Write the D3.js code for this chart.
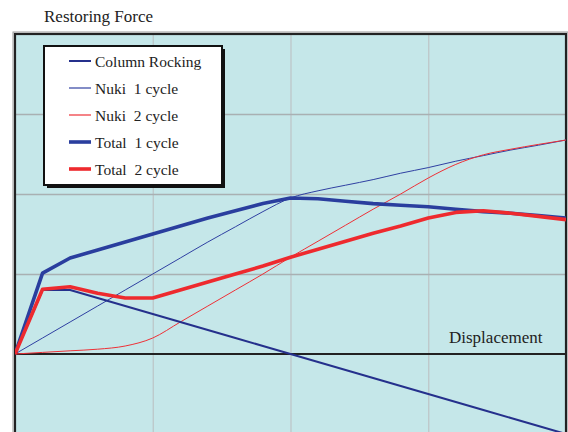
<!DOCTYPE html>
<html>
<head>
<meta charset="utf-8">
<script src="https://cdn.jsdelivr.net/npm/d3@7/dist/d3.min.js"></script>
<style>
  html, body { margin: 0; padding: 0; background: #fff; }
  svg { display: block; }
  text { font-family: "Liberation Serif", "Times New Roman", serif; fill: #222; }
</style>
</head>
<body>
<svg id="chart" width="568" height="432"></svg>
<script>
// Displacement steps (x) and restoring force of each component
const displacement = [0, 0.2, 0.4, 0.6, 0.8, 1.0, 1.2, 1.4, 1.6, 1.8, 2.0,
                      2.2, 2.4, 2.6, 2.8, 3.0, 3.2, 3.4, 3.6, 3.8, 4.0];
const columnRocking = [0, 0.80, 0.80, 0.70, 0.60, 0.50, 0.40, 0.30, 0.20, 0.10, 0.00,
                       -0.10, -0.20, -0.30, -0.40, -0.50, -0.60, -0.70, -0.80, -0.90, -1.00];
const nuki1 = [0, 0.20, 0.40, 0.60, 0.80, 1.00, 1.20, 1.40, 1.59, 1.78, 1.95,
               2.04, 2.11, 2.18, 2.26, 2.33, 2.41, 2.48, 2.55, 2.61, 2.675];
const nuki2 = [0, 0.02, 0.04, 0.06, 0.10, 0.20, 0.40, 0.60, 0.80, 1.00, 1.21,
               1.41, 1.61, 1.81, 2.00, 2.20, 2.37, 2.49, 2.56, 2.62, 2.675];
const total1 = [0, 1.01, 1.20, 1.30, 1.40, 1.50, 1.60, 1.70, 1.79, 1.88, 1.95,
                1.94, 1.91, 1.88, 1.86, 1.84, 1.81, 1.78, 1.76, 1.73, 1.70];
const total2 = [0, 0.81, 0.84, 0.76, 0.70, 0.70, 0.80, 0.90, 1.00, 1.10, 1.21,
                1.31, 1.41, 1.51, 1.60, 1.70, 1.77, 1.79, 1.76, 1.72, 1.68];

const seriesNames = ["Column Rocking", "Nuki\u00a0 1 cycle", "Nuki\u00a0 2 cycle", "Total\u00a0 1 cycle", "Total\u00a0 2 cycle"];
const seriesValues = [columnRocking, nuki1, nuki2, total1, total2];
const seriesColors = ["#25308c", "#2f40a2", "#ee3036", "#2a3e9e", "#ee2a2e"];
const seriesWidths = [2, 1, 1, 3.6, 3.6];
const seriesSmooth = [false, true, true, false, false];

const xTicks = [0, 1, 2, 3, 4];
const yTicks = [-1, 0, 1, 2, 3, 4];

const svg = d3.select("#chart");
const plot = { left: 15, right: 566, top: 34, bottom: 434 };

const x = d3.scaleLinear().domain([0, 4]).range([plot.left, plot.right]);
const y = d3.scaleLinear().domain([-1, 4]).range([plot.bottom, plot.top]);

// plot background
svg.append("rect")
  .attr("x", plot.left).attr("y", plot.top)
  .attr("width", plot.right - plot.left).attr("height", plot.bottom - plot.top)
  .attr("fill", "#c5e7e9");

// vertical gridlines
svg.append("g")
  .attr("transform", `translate(0,${plot.bottom})`)
  .call(d3.axisBottom(x).tickValues(xTicks.slice(1, -1)).tickSize(-(plot.bottom - plot.top)).tickFormat(""))
  .call(g => g.select(".domain").remove())
  .call(g => g.selectAll(".tick line").attr("stroke", "#bcc4c6").attr("stroke-width", 1.2));

// horizontal gridlines
svg.append("g")
  .attr("transform", `translate(${plot.left},0)`)
  .call(d3.axisLeft(y).tickValues(yTicks.slice(1, -1).filter(v => v !== 0)).tickSize(-(plot.right - plot.left)).tickFormat(""))
  .call(g => g.select(".domain").remove())
  .call(g => g.selectAll(".tick line").attr("stroke", "#a9b0b2").attr("stroke-width", 1.6));

// zero (displacement) axis
svg.append("line")
  .attr("x1", plot.left).attr("x2", plot.right)
  .attr("y1", y(0)).attr("y2", y(0))
  .attr("stroke", "#222").attr("stroke-width", 2);

// frame of the plot area
svg.append("rect")
  .attr("x", plot.left - 2).attr("y", plot.top - 2)
  .attr("width", plot.right - plot.left + 4).attr("height", plot.bottom - plot.top + 4)
  .attr("fill", "none").attr("stroke", "#9a9a9a").attr("stroke-width", 1);
svg.append("rect")
  .attr("x", plot.left).attr("y", plot.top)
  .attr("width", plot.right - plot.left).attr("height", plot.bottom - plot.top)
  .attr("fill", "none").attr("stroke", "#222").attr("stroke-width", 2.2);

// series lines
const straight = d3.line()
  .x((d, i) => x(displacement[i]))
  .y(d => y(d));
const smooth = d3.line()
  .x((d, i) => x(displacement[i]))
  .y(d => y(d))
  .curve(d3.curveMonotoneX);

svg.append("clipPath").attr("id", "plotClip")
  .append("rect")
  .attr("x", plot.left).attr("y", plot.top)
  .attr("width", plot.right - plot.left).attr("height", plot.bottom - plot.top);

const drawOrder = [1, 2, 0, 3, 4];
svg.append("g").attr("clip-path", "url(#plotClip)")
  .selectAll("path")
  .data(drawOrder)
  .join("path")
  .attr("d", k => (seriesSmooth[k] ? smooth : straight)(seriesValues[k]))
  .attr("fill", "none")
  .attr("stroke", k => seriesColors[k])
  .attr("stroke-width", k => seriesWidths[k])
  .attr("stroke-linejoin", "round");

// axis titles
svg.append("text")
  .attr("x", 44).attr("y", 22)
  .attr("font-size", 17)
  .text("Restoring Force");
svg.append("text")
  .attr("x", 449).attr("y", 343)
  .attr("font-size", 17)
  .text("Displacement");

// legend
const legend = svg.append("g");
const lg = { x: 44, y: 46, w: 178, h: 139 };
legend.append("rect")
  .attr("x", lg.x + 3).attr("y", lg.y + 3)
  .attr("width", lg.w).attr("height", lg.h)
  .attr("fill", "#111");
legend.append("rect")
  .attr("x", lg.x).attr("y", lg.y)
  .attr("width", lg.w).attr("height", lg.h)
  .attr("fill", "#fff").attr("stroke", "#111").attr("stroke-width", 2);

const rows = legend.selectAll("g.row")
  .data(seriesNames)
  .join("g")
  .attr("class", "row")
  .attr("transform", (d, i) => `translate(0,${61 + i * 27})`);
rows.append("line")
  .attr("x1", 69).attr("x2", 91)
  .attr("y1", 0).attr("y2", 0)
  .attr("stroke", (d, i) => seriesColors[i])
  .attr("stroke-width", (d, i) => seriesWidths[i] === 1 ? 1.2 : seriesWidths[i]);
rows.append("text")
  .attr("x", 95).attr("y", 5.5)
  .attr("font-size", 15.5)
  .text(d => d);
</script>
</body>
</html>
